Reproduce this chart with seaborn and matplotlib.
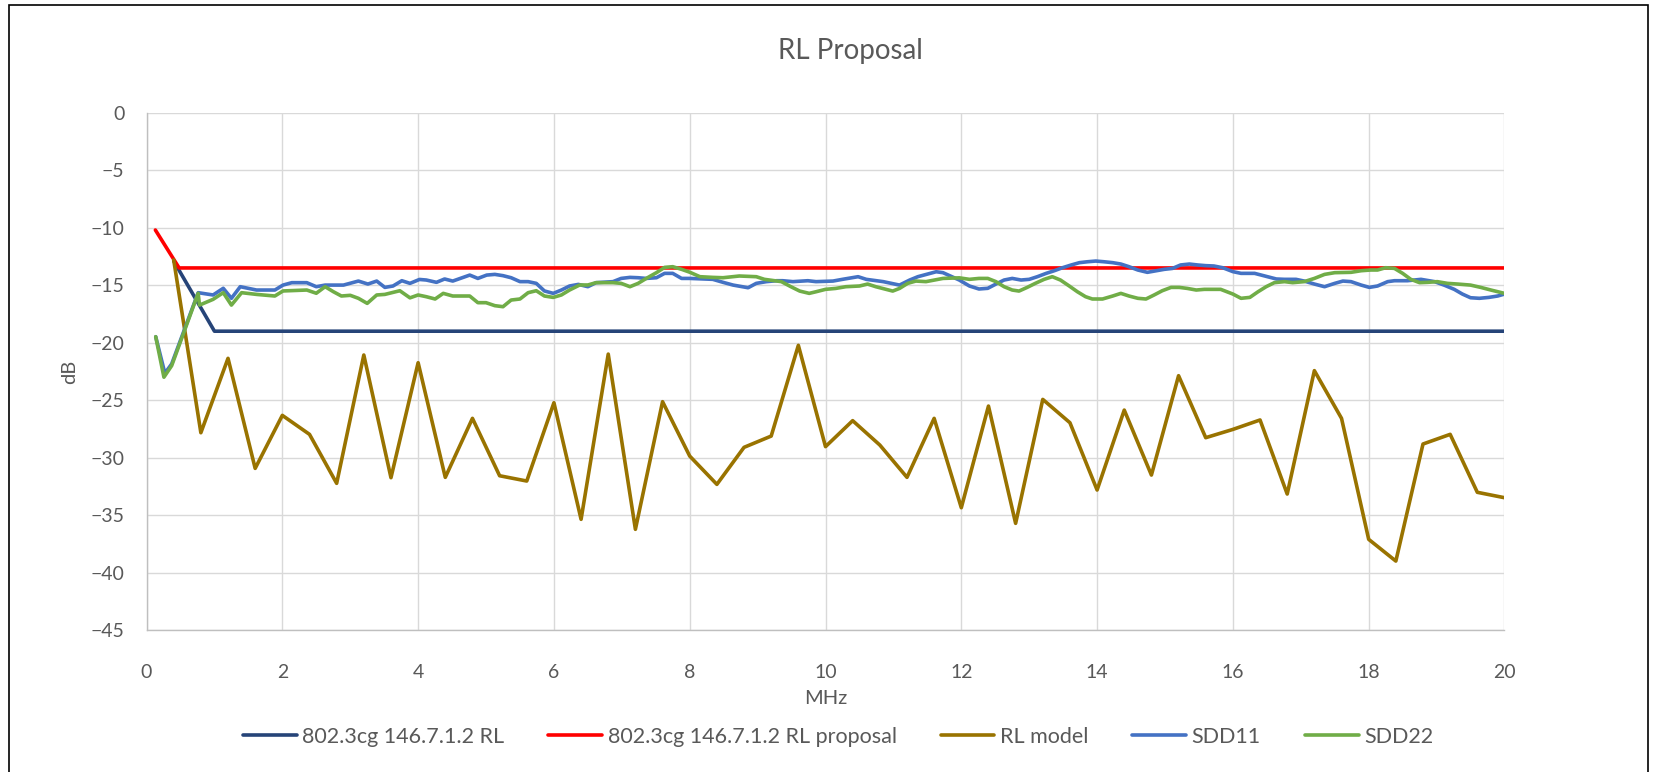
import matplotlib
matplotlib.use("Agg")
import matplotlib.pyplot as plt
import matplotlib.patches as patches
import seaborn as sns

# Data
rl_f = [0.4, 1.0, 20.0]
rl_db = [-12.9, -19.0, -19.0]

prop_f = [0.13, 0.48, 20.0]
prop_db = [-10.2, -13.5, -13.5]

model_f = [0.4, 0.8, 1.2, 1.6, 2.0, 2.4, 2.8, 3.2, 3.6, 4.0, 4.4, 4.8, 5.2, 5.6,
           6.0, 6.4, 6.8, 7.2, 7.6, 8.0, 8.4, 8.8, 9.2, 9.6, 10.0, 10.4, 10.8,
           11.2, 11.6, 12.0, 12.4, 12.8, 13.2, 13.6, 14.0, 14.4, 14.8, 15.2,
           15.6, 16.0, 16.4, 16.8, 17.2, 17.6, 18.0, 18.4, 18.8, 19.2, 19.6, 20.0]
model_db = [-12.8, -27.83, -21.36, -30.93, -26.32, -27.97, -32.23, -21.07, -31.74,
            -21.74, -31.71, -26.58, -31.57, -32.03, -25.22, -35.36, -20.99, -36.23,
            -25.13, -29.86, -32.32, -29.1, -28.12, -20.23, -29.04, -26.78, -28.9,
            -31.71, -26.58, -34.35, -25.51, -35.71, -24.93, -26.96, -32.81, -25.86,
            -31.51, -22.87, -28.26, -27.54, -26.72, -33.16, -22.43, -26.58, -37.1,
            -38.99, -28.81, -27.97, -33.01, -33.48]

sdd11_f = [0.135, 0.27, 0.37, 0.76, 0.98, 1.13, 1.25, 1.38, 1.62, 1.89, 2.01, 2.14,
           2.36, 2.5, 2.63, 2.9, 3.12, 3.26, 3.39, 3.51, 3.63, 3.76, 3.88, 4.02,
           4.12, 4.27, 4.39, 4.51, 4.76, 4.88, 5.01, 5.13, 5.25, 5.37, 5.5, 5.62,
           5.74, 5.86, 5.99, 6.11, 6.23, 6.36, 6.5, 6.62, 6.87, 6.99, 7.12, 7.24,
           7.36, 7.51, 7.63, 7.75, 7.88, 8.0, 8.34, 8.49, 8.64, 8.86, 8.98, 9.13,
           9.28, 9.37, 9.52, 9.74, 9.86, 10.11, 10.25, 10.48, 10.6, 10.85, 11.09,
           11.24, 11.36, 11.63, 11.73, 11.97, 12.12, 12.26, 12.39, 12.51, 12.63,
           12.75, 12.88, 13.0, 13.12, 13.25, 13.37, 13.49, 13.62, 13.74, 13.86,
           13.98, 14.1, 14.23, 14.35, 14.47, 14.6, 14.74, 14.87, 14.99, 15.11,
           15.23, 15.36, 15.48, 15.6, 15.72, 15.85, 16.0, 16.12, 16.32, 16.51,
           16.64, 16.76, 16.93, 17.05, 17.2, 17.35, 17.5, 17.62, 17.74, 17.89,
           18.01, 18.13, 18.28, 18.38, 18.57, 18.77, 18.97, 19.11, 19.26, 19.38,
           19.5, 19.63, 19.77, 19.9, 20.0]
sdd11_db = [-19.48, -22.66, -21.85, -15.65, -15.85, -15.27, -16.14, -15.13, -15.42,
            -15.42, -14.99, -14.78, -14.78, -15.13, -14.99, -14.99, -14.64, -14.9,
            -14.64, -15.19, -15.07, -14.61, -14.84, -14.5, -14.55, -14.75, -14.46,
            -14.64, -14.12, -14.41, -14.12, -14.06, -14.17, -14.35, -14.69, -14.69,
            -14.84, -15.5, -15.71, -15.42, -15.07, -14.93, -15.13, -14.78, -14.69,
            -14.41, -14.32, -14.35, -14.41, -14.35, -13.97, -13.97, -14.41, -14.41,
            -14.49, -14.75, -14.99, -15.22, -14.84, -14.69, -14.61, -14.61, -14.69,
            -14.61, -14.69, -14.64, -14.49, -14.26, -14.49, -14.69, -14.99, -14.55,
            -14.26, -13.83, -13.91, -14.55, -15.07, -15.33, -15.27, -14.9, -14.55,
            -14.41, -14.55, -14.49, -14.26, -13.97, -13.74, -13.48, -13.24, -13.04,
            -12.96, -12.9, -12.96, -13.04, -13.16, -13.39, -13.68, -13.88, -13.74,
            -13.62, -13.54, -13.24, -13.16, -13.24, -13.3, -13.33, -13.48, -13.82,
            -13.97, -13.97, -14.26, -14.46, -14.49, -14.49, -14.64, -14.9, -15.13,
            -14.84, -14.64, -14.69, -14.99, -15.19, -15.07, -14.69, -14.61, -14.61,
            -14.49, -14.69, -14.99, -15.36, -15.77, -16.09, -16.14, -16.06, -15.94,
            -15.77]

sdd22_f = [0.135, 0.256, 0.37, 0.76, 0.78, 0.98, 1.13, 1.25, 1.4, 1.62, 1.89, 2.01,
           2.36, 2.5, 2.63, 2.75, 2.87, 3.0, 3.12, 3.25, 3.39, 3.51, 3.73, 3.88,
           4.0, 4.12, 4.25, 4.37, 4.51, 4.76, 4.88, 5.0, 5.13, 5.25, 5.37, 5.5,
           5.62, 5.74, 5.86, 5.99, 6.11, 6.23, 6.38, 6.5, 6.62, 6.87, 6.99, 7.12,
           7.24, 7.36, 7.51, 7.63, 7.75, 7.88, 8.0, 8.15, 8.34, 8.49, 8.73, 8.98,
           9.1, 9.35, 9.49, 9.62, 9.76, 9.86, 10.0, 10.15, 10.3, 10.5, 10.62,
           10.74, 10.99, 11.09, 11.21, 11.33, 11.48, 11.73, 11.97, 12.12, 12.26,
           12.39, 12.51, 12.63, 12.75, 12.85, 12.97, 13.09, 13.22, 13.34, 13.46,
           13.59, 13.71, 13.83, 13.93, 14.08, 14.23, 14.35, 14.47, 14.6, 14.72,
           14.84, 14.96, 15.09, 15.21, 15.33, 15.46, 15.58, 15.7, 15.82, 16.0,
           16.12, 16.25, 16.37, 16.49, 16.61, 16.76, 16.88, 17.05, 17.2, 17.35,
           17.5, 17.74, 17.89, 18.03, 18.13, 18.25, 18.38, 18.5, 18.62, 18.75,
           18.87, 19.01, 19.16, 19.31, 19.5, 19.65, 19.8, 20.0]
sdd22_db = [-19.48, -23.0, -22.0, -15.7, -16.73, -16.23, -15.65, -16.73, -15.65,
            -15.8, -15.94, -15.5, -15.42, -15.7, -15.13, -15.56, -15.94, -15.88,
            -16.14, -16.58, -15.85, -15.8, -15.48, -16.1, -15.85, -16.0, -16.2,
            -15.71, -15.94, -15.94, -16.52, -16.52, -16.78, -16.87, -16.29, -16.2,
            -15.65, -15.48, -15.94, -16.06, -15.85, -15.42, -14.98, -14.98, -14.78,
            -14.78, -14.84, -15.13, -14.84, -14.41, -13.91, -13.45, -13.39, -13.62,
            -13.87, -14.26, -14.32, -14.35, -14.2, -14.26, -14.49, -14.69, -15.13,
            -15.51, -15.71, -15.57, -15.36, -15.28, -15.13, -15.07, -14.9, -15.13,
            -15.51, -15.28, -14.84, -14.64, -14.69, -14.41, -14.36, -14.49, -14.41,
            -14.41, -14.69, -15.13, -15.42, -15.51, -15.19, -14.84, -14.49, -14.26,
            -14.55, -15.07, -15.57, -16.0, -16.2, -16.2, -15.94, -15.71, -15.94,
            -16.14, -16.2, -15.85, -15.48, -15.19, -15.19, -15.28, -15.42, -15.36,
            -15.36, -15.36, -15.77, -16.14, -16.06, -15.57, -15.13, -14.78, -14.69,
            -14.78, -14.69, -14.41, -14.06, -13.91, -13.88, -13.74, -13.68, -13.68,
            -13.48, -13.54, -13.97, -14.49, -14.78, -14.75, -14.69, -14.84, -14.9,
            -14.99, -15.19, -15.42, -15.71]

x_ticks = list(range(0, 21, 2))
y_ticks = list(range(-45, 1, 5))

series = [
    ("802.3cg 146.7.1.2 RL", rl_f, rl_db, "#264478"),
    ("802.3cg 146.7.1.2 RL proposal", prop_f, prop_db, "#FF0000"),
    ("RL model", model_f, model_db, "#997300"),
    ("SDD11", sdd11_f, sdd11_db, "#4472C4"),
    ("SDD22", sdd22_f, sdd22_db, "#70AD47"),
]

if __name__ == "__main__":
    sns.set_style("white")
    plt.rcParams["font.family"] = ["Lato", "DejaVu Sans"]
    grey = "#595959"

    fig = plt.figure(figsize=(16.54, 7.72), dpi=100)
    ax = fig.add_axes([0.0886, 0.1837, 0.821, 0.6703])

    for name, f, db, color in series:
        sns.lineplot(x=f, y=db, ax=ax, color=color, linewidth=2.6,
                     label=name, estimator=None, sort=False)

    ax.set_xlim(0, 20)
    ax.set_ylim(-45, 0)
    ax.set_xticks(x_ticks)
    ax.set_yticks(y_ticks)
    ax.grid(True, color="#d9d9d9", linewidth=1.0)
    ax.set_axisbelow(True)
    for side in ["top", "right"]:
        ax.spines[side].set_visible(False)
    for side in ["left", "bottom"]:
        ax.spines[side].set_color("#bfbfbf")
        ax.spines[side].set_linewidth(1.0)
    ax.tick_params(axis="both", length=0, labelsize=14, labelcolor=grey)
    ax.tick_params(axis="x", pad=24)
    ax.tick_params(axis="y", pad=16)

    ax.set_xlabel("MHz", fontsize=14.5, color=grey, labelpad=7)
    ax.set_ylabel("dB", fontsize=14.5, color=grey, labelpad=9)

    fig.text(850 / 1654, 1 - 51 / 772, "RL Proposal", ha="center", va="center",
             fontsize=20, color=grey)

    handles, labels = ax.get_legend_handles_labels()
    ax.get_legend().remove()
    fig.legend(handles, labels, loc="center", ncol=5, frameon=False,
               bbox_to_anchor=(838 / 1654, 1 - 737 / 772), fontsize=15.5,
               handlelength=2.5, handletextpad=0.25, columnspacing=2.05,
               labelcolor=grey)

    # chart border
    fig.patches.append(patches.Rectangle((9 / 1654, -0.02), 1639 / 1654, 1.02 - 5 / 772,
                                         transform=fig.transFigure, fill=False,
                                         edgecolor="black", linewidth=1.2))

    fig.savefig("out.png", dpi=100)
